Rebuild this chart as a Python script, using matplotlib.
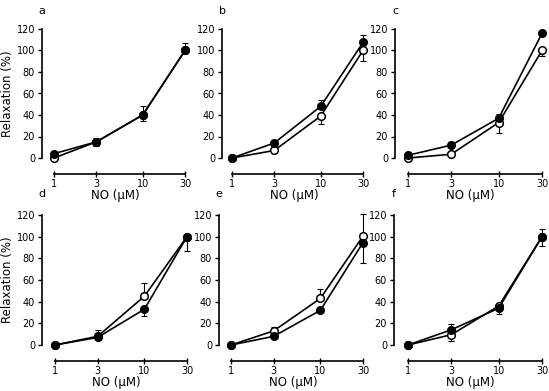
import numpy as np
import matplotlib
matplotlib.use("Agg")
import matplotlib.pyplot as plt

conc = [1, 3, 10, 30]
xtick_labels = ["1", "3", "10", "30"]
yticks = [0, 20, 40, 60, 80, 100, 120]
panel_letters = ["a", "b", "c", "d", "e", "f"]

# filled circles
filled_a = [4, 15, 40, 100]
filled_b = [0, 14, 48, 107.5]
filled_c = [2.5, 12, 37, 116]
filled_d = [0, 7, 33, 100]
filled_e = [0, 8, 32, 94.5]
filled_f = [0, 14, 34, 100]
# open circles
open_a = [0, 15, 40, 100]
open_b = [0, 7, 39, 100]
open_c = [0, 3.5, 33, 100]
open_d = [0, 8, 45, 100]
open_e = [0, 13, 43, 100.5]
open_f = [0, 9.5, 36, 100]

# error bars (lower, upper)
filled_err_a = ([4, 4, 6, 0], [2, 4, 8, 7])
filled_err_b = ([0, 2, 0, 0], [0, 2, 6, 6.5])
filled_err_c = ([0, 3, 0, 0], [0, 3, 4, 0])
filled_err_d = ([0, 0, 6, 0], [0, 0, 0, 0])
filled_err_e = ([0, 0, 0, 0], [0, 0, 0, 0])
filled_err_f = ([0, 0, 0, 0], [0, 5, 0, 7])
open_err_a = ([0, 3, 0, 0], [0, 0, 0, 0])
open_err_b = ([0, 0, 7, 9.5], [0, 0, 0, 0])
open_err_c = ([0, 0, 9.5, 5], [0, 0, 0, 0])
open_err_d = ([0, 0, 0, 13], [0, 6, 12, 0])
open_err_e = ([0, 0, 0, 24.5], [0, 4, 9, 20])
open_err_f = ([0, 6, 7.5, 9], [0, 0, 0, 0])

filled_all = [filled_a, filled_b, filled_c, filled_d, filled_e, filled_f]
open_all = [open_a, open_b, open_c, open_d, open_e, open_f]
ferr_all = [filled_err_a, filled_err_b, filled_err_c, filled_err_d, filled_err_e, filled_err_f]
oerr_all = [open_err_a, open_err_b, open_err_c, open_err_d, open_err_e, open_err_f]

W, H = 549, 391
fig = plt.figure(figsize=(W / 100, H / 100), dpi=100)
fig.patch.set_facecolor("white")

# pixel geometry: (left spine x, x of 1, x of 30, y of 0, y of 120)
geom = [
    (42, 54, 185, 158, 29),
    (222, 232, 363, 158, 29),
    (395, 408, 542, 158, 29),
    (42, 55, 187, 345, 215),
    (219, 231, 363, 345, 215),
    (394, 408, 542, 345, 215),
]

for i, (sx, x1, x30, y0, y120) in enumerate(geom):
    dec = (x30 - x1) / np.log10(30)
    xl = 10 ** (-(x1 - sx) / dec)
    xr = 30 * 10 ** (4 / dec)
    s = (y0 - y120) / 120.0
    ylo, yhi = -3, 123
    pb = y0 + 3 * s
    pt = y120 - 3 * s
    left = sx / W
    width = (x30 + 4 - sx) / W
    bottom = 1 - pb / H
    height = (pb - pt) / H
    ax = fig.add_axes([left, bottom, width, height])
    ax.set_xscale("log")
    ax.set_xlim(xl, xr)
    ax.set_ylim(ylo, yhi)
    for sp in ["top", "right"]:
        ax.spines[sp].set_visible(False)
    ax.spines["left"].set_bounds(0, 120)
    ax.spines["bottom"].set_bounds(1, 30)
    ax.spines["bottom"].set_position(("outward", 9.5))
    ax.spines["left"].set_linewidth(1.2)
    ax.spines["bottom"].set_linewidth(1.2)
    ax.set_xticks(conc)
    ax.set_xticklabels(xtick_labels)
    ax.xaxis.set_minor_locator(matplotlib.ticker.NullLocator())
    ax.set_yticks(yticks)
    ax.tick_params(axis="y", direction="out", length=3, width=1, labelsize=7, pad=2)
    ax.tick_params(axis="x", direction="inout", length=4, width=1, labelsize=7, pad=1.5)
    ax.set_xlabel("NO (\u03bcM)", fontsize=8.5, labelpad=0)
    if i in (0, 3):
        ax.set_ylabel("Relaxation (%)", fontsize=8.5, labelpad=1.5)

    ol, ou = oerr_all[i]
    fl, fu = ferr_all[i]
    ax.errorbar(conc, open_all[i], yerr=[ol, ou], fmt="none", ecolor="black",
                elinewidth=0.8, capsize=2, capthick=0.8, zorder=2)
    ax.errorbar(conc, filled_all[i], yerr=[fl, fu], fmt="none", ecolor="black",
                elinewidth=0.8, capsize=2, capthick=0.8, zorder=2)
    ax.plot(conc, open_all[i], "-", color="black", lw=1.2, marker="o", ms=5.5,
            mfc="white", mec="black", mew=1.1, zorder=3, clip_on=False)
    ax.plot(conc, filled_all[i], "-", color="black", lw=1.2, marker="o", ms=5.5,
            mfc="black", mec="black", zorder=4, clip_on=False)

    fig.text(sx / W, 1 - (11 if i < 3 else 194) / H, panel_letters[i],
             fontsize=8, ha="center", va="center")

fig.savefig("out.png", dpi=100, facecolor="white")
